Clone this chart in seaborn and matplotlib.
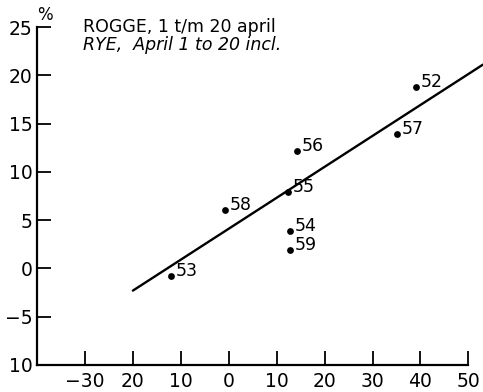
import matplotlib
matplotlib.use("Agg")
import matplotlib.pyplot as plt
import seaborn as sns
import pandas as pd

years = ["52", "53", "54", "55", "56", "57", "58", "59"]
x_vals = [39, -12, 12.7, 12.3, 14.2, 35, -0.8, 12.7]
y_vals = [18.8, -0.8, 3.9, 7.9, 12.2, 13.9, 6.1, 1.9]
line_x = [-20, 53]
line_y = [-2.3, 21.1]
x_ticks = [-30, -20, -10, 0, 10, 20, 30, 40, 50]
x_ticklabels = ["\u221230", "20", "10", "0", "10", "20", "30", "40", "50"]
y_ticks = [25, 20, 15, 10, 5, 0, -5, -10]
y_ticklabels = ["25", "20", "15", "10", "5", "0", "\u22125", "10"]
title_nl = "ROGGE, 1 t/m 20 april"
title_en = "RYE,  April 1 to 20 incl."

sns.set_style("white")
plt.rcParams['font.family'] = ['DejaVu Sans']

df = pd.DataFrame({"x": x_vals, "y": y_vals, "year": years})
ldf = pd.DataFrame({"x": line_x, "y": line_y})

fig = plt.figure(figsize=(4.83, 3.92), dpi=100)
ax = fig.add_axes([0.0766, 0.069, 0.923, 0.862])

sns.lineplot(data=ldf, x="x", y="y", ax=ax, color="black", linewidth=1.7)
sns.scatterplot(data=df, x="x", y="y", ax=ax, color="black", s=24, edgecolor="black", linewidth=0, zorder=3)
for xv, yv, lab in zip(x_vals, y_vals, years):
    ax.annotate(lab, (xv, yv), xytext=(3.5, 0), textcoords="offset points",
                fontsize=12.5, va="baseline", ha="left", color="black")

ax.set_xlim(-40, 53)
ax.set_ylim(-10, 25)
ax.spines["top"].set_visible(False)
ax.spines["right"].set_visible(False)
ax.spines["bottom"].set_bounds(-40, 50)
for s in ["left", "bottom"]:
    ax.spines[s].set_linewidth(1.6)
    ax.spines[s].set_color("black")
ax.set_xticks(x_ticks)
ax.set_xticklabels(x_ticklabels)
ax.set_yticks(y_ticks)
ax.set_yticklabels(y_ticklabels)
ax.tick_params(axis="both", direction="in", length=10, width=1.3, labelsize=13.5,
               colors="black", bottom=True, left=True)
ax.tick_params(axis="x", pad=5)
ax.tick_params(axis="y", pad=3)
ax.set_xlabel("")
ax.set_ylabel("")

ax.text(0.0, 1.01, "%", transform=ax.transAxes, fontsize=12, ha="left", va="bottom", color="black")
fig.text(0.171, 0.918, title_nl, fontsize=12.5, ha="left", va="baseline", color="black")
fig.text(0.171, 0.872, title_en, fontsize=12.5, ha="left", va="baseline", color="black",
         style="italic")

fig.savefig("out.png", dpi=100)
